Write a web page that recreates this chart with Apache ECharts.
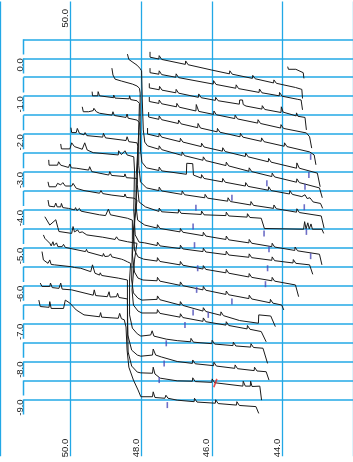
<!DOCTYPE html>
<html><head><meta charset="utf-8">
<script src="https://cdn.jsdelivr.net/npm/echarts@6/dist/echarts.min.js"></script>
<style>html,body{margin:0;padding:0;background:#fff}#c{width:353px;height:462px}</style>
</head><body><div id="c"></div>
<script>
// axis settings
const xTickValues = [50, 48, 46, 44];
const topTickValues = [50];
const yLabelValues = [0, -1, -2, -3, -4, -5, -6, -7, -8, -9];
const rowLines = [0.5,0,-0.5,-1,-1.5,-2,-2.5,-3,-3.5,-4,-4.5,-5,-5.5,-6,-6.5,-7,-7.5,-8,-8.5,-9];

// traces: [ppm, offset]
const trace00 = [[43.85,-0.22],[43.83,-0.29],[43.62,-0.29],[43.58,-0.33],[43.41,-0.38],[43.39,-0.53]];
const trace01 = [[47.75,0.17],[47.75,0.03],[47.50,-0.02],[47.49,0.07],[47.42,-0.03],[46.75,-0.16],[46.74,-0.07],[46.67,-0.17],[46.0,-0.31],[45.5,-0.41],[45.49,-0.33],[45.42,-0.42],[44.85,-0.53],[44.84,-0.45],[44.77,-0.54],[44.25,-0.65],[44.24,-0.57],[44.17,-0.66],[43.63,-0.77],[43.45,-0.82],[43.43,-1.06]];
const trace02 = [[47.75,-0.26],[47.75,-0.38],[47.50,-0.42],[47.49,-0.33],[47.42,-0.43],[47.02,-0.50],[47.01,-0.41],[46.94,-0.51],[45.96,-0.68],[45.95,-0.59],[45.88,-0.69],[45.32,-0.79],[45.31,-0.70],[45.24,-0.80],[44.66,-0.90],[44.65,-0.81],[44.58,-0.91],[44.09,-0.99],[44.08,-0.90],[44.01,-1.00],[43.58,-1.08],[43.47,-1.10],[43.43,-1.36]];
const trace03 = [[47.77,-0.66],[47.77,-0.78],[47.49,-0.83],[47.48,-0.74],[47.41,-0.84],[47.02,-0.91],[47.01,-0.82],[46.94,-0.92],[46.38,-1.03],[46.37,-0.94],[46.30,-1.04],[45.90,-1.11],[45.89,-1.03],[45.82,-1.12],[45.22,-1.21],[45.21,-1.10],[45.13,-1.10],[45.11,-1.22],[45.03,-1.26],[44.58,-1.34],[44.57,-1.25],[44.50,-1.35],[44.04,-1.43],[44.03,-1.28],[43.98,-1.42],[43.95,-1.45],[43.61,-1.52],[43.60,-1.44],[43.56,-1.53],[43.36,-1.56],[43.32,-1.89]];
const trace04 = [[47.77,-1.02],[47.77,-1.14],[47.50,-1.19],[47.49,-1.10],[47.42,-1.20],[47.00,-1.28],[46.99,-1.19],[46.92,-1.29],[46.45,-1.39],[46.44,-1.22],[46.37,-1.40],[45.95,-1.48],[45.94,-1.39],[45.87,-1.49],[45.35,-1.59],[45.34,-1.50],[45.27,-1.60],[44.70,-1.71],[44.69,-1.62],[44.62,-1.72],[44.05,-1.84],[44.04,-1.75],[43.97,-1.85],[43.32,-1.97],[43.23,-2.07],[43.17,-2.37]];
const trace05 = [[47.79,-1.42],[47.79,-1.55],[47.50,-1.61],[47.49,-1.52],[47.42,-1.62],[46.95,-1.72],[46.94,-1.63],[46.87,-1.73],[46.40,-1.83],[46.39,-1.72],[46.32,-1.84],[45.85,-1.94],[45.84,-1.85],[45.77,-1.95],[45.20,-2.07],[45.19,-1.98],[45.12,-2.08],[44.60,-2.19],[44.59,-2.10],[44.52,-2.20],[43.95,-2.32],[43.94,-2.23],[43.87,-2.33],[43.23,-2.47],[43.10,-2.55],[43.05,-2.81]];
const trace06 = [[47.82,-1.84],[47.82,-2.00],[47.50,-2.07],[47.49,-1.98],[47.42,-2.08],[46.90,-2.20],[46.89,-2.11],[46.82,-2.21],[46.30,-2.33],[46.29,-2.24],[46.22,-2.34],[45.70,-2.45],[45.69,-2.36],[45.62,-2.46],[45.05,-2.59],[45.04,-2.50],[44.97,-2.60],[44.40,-2.73],[44.39,-2.64],[44.32,-2.74],[43.60,-2.90],[43.59,-2.76],[43.52,-2.90],[43.01,-3.03],[42.93,-3.39]];
const trace07 = [[48.39,0.11],[48.35,-0.03],[48.26,-0.09],[48.12,-0.18],[48.04,-0.26],[47.99,-0.33],[47.97,-1.10],[47.94,-1.89],[47.90,-2.21],[47.82,-2.31],
  [47.50,-2.40],[47.49,-2.31],[47.42,-2.41],[46.85,-2.56],[46.84,-2.47],[46.77,-2.57],[46.25,-2.69],[46.24,-2.60],[46.17,-2.70],[45.60,-2.83],[45.59,-2.74],[45.52,-2.84],[44.95,-2.98],[44.94,-2.89],[44.87,-2.99],[44.30,-3.12],[44.29,-3.03],[44.22,-3.13],[43.60,-3.27],[43.59,-3.18],[43.52,-3.28],[42.95,-3.42],[42.87,-3.68]];
const trace08 = [[48.83,-0.26],[48.80,-0.44],[48.74,-0.55],[48.56,-0.60],[48.25,-0.68],[48.12,-0.73],[48.05,-0.79],[48.03,-0.92],[48.03,-1.63],[48.02,-2.42],[47.98,-2.74],[47.85,-2.89],
  [47.50,-2.96],[47.49,-2.87],[47.42,-2.97],[46.72,-3.06],[46.71,-2.77],[46.54,-2.78],[46.52,-3.08],[46.30,-3.16],[46.29,-3.07],[46.22,-3.17],[45.70,-3.26],[45.69,-3.17],[45.62,-3.27],[45.05,-3.37],[45.04,-3.28],[44.97,-3.38],[44.40,-3.48],[44.39,-3.39],[44.32,-3.49],[43.80,-3.58],[43.79,-3.49],[43.72,-3.59],[43.45,-3.65],[43.36,-3.60],[43.30,-3.70],[43.22,-3.68],[43.13,-3.79],[42.92,-3.83],[42.86,-3.96]];
const trace09 = [[49.39,-0.88],[49.38,-0.99],[49.23,-0.99],[49.22,-0.88],[49.18,-0.99],[48.78,-1.04],[48.78,-0.97],[48.74,-1.05],[48.34,-1.07],[48.33,-0.99],[48.30,-1.09],[48.12,-1.12],[48.05,-1.19],[48.07,-1.89],[48.07,-2.82],[48.02,-3.26],[47.85,-3.42],
  [47.50,-3.49],[47.49,-3.40],[47.42,-3.50],[46.85,-3.59],[46.84,-3.50],[46.77,-3.60],[46.20,-3.68],[46.19,-3.59],[46.12,-3.69],[45.55,-3.77],[45.54,-3.68],[45.47,-3.78],[44.90,-3.87],[44.89,-3.78],[44.82,-3.88],[44.25,-3.96],[44.24,-3.87],[44.17,-3.97],[43.60,-4.06],[43.59,-3.97],[43.52,-4.07],[42.90,-4.16],[42.82,-4.48]];
const trace10 = [[49.67,-1.28],[49.64,-1.41],[49.49,-1.41],[49.36,-1.38],[49.34,-1.32],[49.27,-1.41],[49.18,-1.45],[48.83,-1.50],[48.80,-1.41],[48.76,-1.51],[48.43,-1.56],[48.40,-1.47],[48.37,-1.58],[48.12,-1.63],[48.05,-1.70],[48.10,-2.42],[48.11,-3.34],[48.06,-3.79],[47.88,-3.92],
  [47.50,-4.04],[47.49,-3.95],[47.42,-4.05],[46.95,-4.08],[46.94,-3.99],[46.87,-4.09],[46.30,-4.12],[46.29,-4.03],[46.22,-4.13],[45.60,-4.15],[45.59,-4.06],[45.52,-4.16],[45.00,-4.19],[44.99,-4.10],[44.92,-4.20],[44.60,-4.22],[44.51,-4.49],[43.40,-4.51],[43.37,-4.31],[43.33,-4.50],[43.28,-4.34],[43.24,-4.50],[43.19,-4.37],[43.15,-4.51],[42.88,-4.51],[42.83,-4.62]];
const trace11 = [[49.99,-1.83],[49.97,-1.96],[49.84,-1.96],[49.81,-1.85],[49.75,-1.98],[49.62,-2.02],[49.59,-1.96],[49.54,-2.04],[49.09,-2.08],[49.07,-1.98],[49.01,-2.10],[48.43,-2.17],[48.40,-2.07],[48.35,-2.20],[48.12,-2.23],[48.09,-2.33],[48.14,-3.08],[48.15,-3.87],[48.10,-4.27],[47.90,-4.40],
  [47.55,-4.48],[47.54,-4.39],[47.47,-4.49],[46.90,-4.58],[46.89,-4.49],[46.82,-4.59],[46.25,-4.68],[46.24,-4.59],[46.17,-4.69],[45.60,-4.78],[45.59,-4.69],[45.52,-4.79],[44.95,-4.87],[44.94,-4.78],[44.87,-4.88],[44.30,-4.97],[44.29,-4.88],[44.22,-4.98],[43.65,-5.07],[43.64,-4.98],[43.57,-5.08],[42.95,-5.17],[42.88,-5.45]];
const trace12 = [[50.28,-2.26],[50.26,-2.39],[50.02,-2.39],[49.97,-2.23],[49.89,-2.33],[49.67,-2.40],[49.60,-2.23],[49.53,-2.42],[49.36,-2.49],[48.65,-2.55],[48.64,-2.44],[48.56,-2.54],[48.46,-2.44],[48.40,-2.55],[48.21,-2.60],[48.17,-2.60],[48.19,-2.95],[48.21,-4.00],[48.17,-4.66],[48.06,-4.85],[47.90,-4.87],
  [47.55,-4.94],[47.54,-4.85],[47.47,-4.95],[46.90,-5.02],[46.89,-4.93],[46.82,-5.03],[46.25,-5.10],[46.24,-5.01],[46.17,-5.11],[45.60,-5.18],[45.59,-5.09],[45.52,-5.19],[44.95,-5.25],[44.94,-5.16],[44.87,-5.26],[44.30,-5.33],[44.29,-5.24],[44.22,-5.34],[43.70,-5.40],[43.69,-5.31],[43.62,-5.41],[43.23,-5.45],[43.14,-5.70]];
const trace13 = [[50.62,-2.68],[50.61,-2.82],[50.37,-2.82],[50.34,-2.73],[50.28,-2.82],[50.06,-2.88],[50.02,-2.79],[49.98,-2.89],[49.84,-2.90],[49.49,-2.95],[49.46,-2.86],[49.40,-2.99],[48.92,-3.08],[48.89,-2.99],[48.84,-3.09],[48.48,-3.12],[48.46,-3.05],[48.42,-3.15],[48.12,-3.17],[48.08,-3.21],[48.14,-3.74],[48.22,-4.53],[48.19,-5.06],[48.09,-5.24],[47.93,-5.30],
  [47.55,-5.35],[47.54,-5.26],[47.47,-5.36],[46.90,-5.45],[46.89,-5.36],[46.82,-5.46],[46.25,-5.56],[46.24,-5.47],[46.17,-5.57],[45.60,-5.66],[45.59,-5.57],[45.52,-5.67],[44.95,-5.77],[44.94,-5.68],[44.87,-5.78],[44.30,-5.87],[44.29,-5.78],[44.22,-5.88],[43.63,-5.98],[43.54,-6.29]];
const trace14 = [[50.64,-3.26],[50.61,-3.39],[50.42,-3.39],[50.37,-3.30],[50.28,-3.34],[50.22,-3.28],[50.15,-3.37],[49.97,-3.37],[49.93,-3.30],[49.84,-3.43],[49.62,-3.49],[49.18,-3.56],[49.14,-3.49],[49.09,-3.57],[48.83,-3.61],[48.48,-3.65],[48.46,-3.58],[48.42,-3.67],[48.21,-3.69],[48.12,-3.74],[48.18,-4.27],[48.25,-5.19],[48.19,-5.64],[48.09,-5.80],[47.95,-5.85],
  [47.55,-5.87],[47.54,-5.78],[47.47,-5.88],[46.90,-5.99],[46.89,-5.90],[46.82,-6.00],[46.25,-6.11],[46.24,-6.02],[46.17,-6.12],[45.60,-6.23],[45.59,-6.14],[45.52,-6.24],[44.95,-6.34],[44.94,-6.25],[44.87,-6.35],[44.35,-6.45],[44.34,-6.36],[44.27,-6.46],[44.02,-6.51],[43.96,-6.64]];
const trace15 = [[50.64,-3.74],[50.61,-3.90],[50.46,-3.92],[50.42,-3.82],[50.38,-3.92],[50.28,-3.92],[50.26,-3.83],[50.22,-3.94],[50.06,-3.96],[49.89,-4.00],[49.86,-3.94],[49.82,-4.02],[49.75,-3.96],[49.71,-4.03],[49.62,-4.05],[49.18,-4.13],[49.01,-4.15],[48.93,-3.98],[48.87,-4.13],[48.39,-4.22],[48.25,-4.27],[48.21,-4.31],[48.25,-4.79],[48.27,-5.85],[48.22,-6.19],[48.09,-6.33],[47.98,-6.38],
  [47.55,-6.36],[47.54,-6.27],[47.47,-6.37],[46.90,-6.51],[46.89,-6.42],[46.82,-6.52],[46.25,-6.67],[46.24,-6.58],[46.17,-6.68],[45.75,-6.78],[45.74,-6.69],[45.67,-6.79],[45.21,-6.92],[44.68,-6.99],[44.67,-6.77],[44.33,-6.80],[44.20,-7.08]];
const trace16 = [[50.73,-4.18],[50.59,-4.40],[50.42,-4.26],[50.36,-4.47],[50.33,-4.57],[49.97,-4.62],[49.93,-4.44],[49.89,-4.58],[49.80,-4.53],[49.75,-4.60],[49.67,-4.58],[49.54,-4.66],[49.09,-4.72],[48.74,-4.78],[48.70,-4.71],[48.64,-4.79],[48.39,-4.84],[48.12,-4.88],[48.19,-5.32],[48.26,-6.11],[48.22,-6.51],[48.09,-6.67],[47.98,-6.72],
  [47.55,-6.72],[47.54,-6.63],[47.47,-6.73],[46.90,-6.83],[46.89,-6.74],[46.82,-6.84],[46.25,-6.94],[46.24,-6.85],[46.17,-6.95],[45.60,-7.04],[45.59,-6.95],[45.52,-7.05],[45.00,-7.14],[44.99,-7.05],[44.92,-7.15],[44.60,-7.21],[44.46,-7.48]];
const trace17 = [[50.77,-4.66],[50.73,-4.75],[50.59,-4.88],[50.55,-4.95],[50.50,-4.84],[50.47,-4.94],[50.40,-4.87],[50.36,-4.97],[50.24,-4.97],[50.20,-4.91],[50.15,-4.99],[49.58,-5.10],[49.55,-5.04],[49.52,-5.11],[49.09,-5.22],[49.07,-5.15],[49.03,-5.23],[48.92,-5.22],[48.87,-5.16],[48.83,-5.24],[48.56,-5.30],[48.54,-5.25],[48.50,-5.32],[48.39,-5.37],[48.30,-5.41],[48.33,-5.85],[48.33,-6.77],[48.25,-7.12],[48.11,-7.27],[48.01,-7.33],
  [47.73,-7.30],[47.69,-7.19],[47.64,-7.33],[47.29,-7.41],[46.98,-7.45],[46.60,-7.48],[46.59,-7.39],[46.52,-7.49],[46.00,-7.53],[45.99,-7.44],[45.92,-7.54],[45.40,-7.58],[45.39,-7.49],[45.32,-7.59],[44.90,-7.62],[44.89,-7.53],[44.82,-7.63],[44.55,-7.65],[44.42,-8.05]];
const trace18 = [[50.81,-5.10],[50.77,-5.32],[50.64,-5.41],[50.59,-5.32],[50.55,-5.44],[50.46,-5.45],[49.97,-5.50],[49.93,-5.45],[49.89,-5.52],[49.71,-5.54],[49.43,-5.63],[49.38,-5.45],[49.31,-5.67],[49.18,-5.72],[49.16,-5.66],[49.12,-5.73],[48.65,-5.80],[48.39,-5.85],[48.39,-6.38],[48.38,-7.30],[48.27,-7.70],[48.11,-7.83],[48.01,-7.86],
  [47.68,-7.83],[47.66,-7.67],[47.59,-7.83],[47.43,-7.88],[46.98,-8.00],[46.55,-8.05],[46.54,-7.96],[46.47,-8.06],[45.95,-8.11],[45.94,-8.02],[45.87,-8.12],[45.35,-8.18],[45.34,-8.09],[45.27,-8.19],[44.80,-8.24],[44.79,-8.15],[44.72,-8.25],[44.46,-8.27],[44.38,-8.49]];
const trace19 = [[50.86,-5.93],[50.81,-6.02],[50.59,-6.02],[50.57,-5.93],[50.52,-6.05],[50.33,-6.07],[50.28,-5.93],[50.24,-6.09],[49.97,-6.11],[49.36,-6.25],[49.33,-6.11],[49.29,-6.26],[48.96,-6.29],[48.91,-6.16],[48.88,-6.30],[48.70,-6.29],[48.67,-6.20],[48.63,-6.31],[48.39,-6.35],[48.39,-6.91],[48.37,-7.75],[48.27,-8.12],[48.11,-8.28],[48.01,-8.30],
  [47.68,-8.31],[47.66,-8.15],[47.61,-8.33],[47.46,-8.44],[46.98,-8.51],[46.55,-8.52],[46.54,-8.43],[46.47,-8.53],[46.00,-8.55],[45.99,-8.46],[45.92,-8.56],[45.12,-8.65],[45.11,-8.52],[45.05,-8.65],[44.91,-8.65],[44.90,-8.52],[44.86,-8.66],[44.64,-8.65],[44.59,-9.02]];
const trace20 = [[50.90,-6.38],[50.86,-6.55],[50.61,-6.57],[50.59,-6.42],[50.55,-6.60],[50.20,-6.60],[50.15,-6.38],[50.11,-6.42],[50.02,-6.46],[49.97,-6.42],[49.84,-6.64],[49.62,-6.77],[49.18,-6.82],[49.15,-6.71],[49.12,-6.83],[48.65,-6.86],[48.61,-6.73],[48.56,-6.87],[48.48,-6.90],[48.43,-7.09],[48.40,-7.70],[48.35,-8.15],[48.22,-8.49],[48.09,-8.75],[48.01,-8.93],
  [47.68,-8.93],[47.66,-8.80],[47.61,-8.95],[47.33,-8.97],[47.30,-8.89],[47.24,-8.97],[46.98,-9.02],[46.50,-9.06],[46.49,-8.97],[46.42,-9.07],[45.90,-9.10],[45.89,-9.01],[45.82,-9.11],[45.30,-9.15],[45.29,-9.06],[45.22,-9.16],[44.75,-9.19],[44.67,-9.37]];

// small peak markers
const blueMarks = [[43.20,-2.60],[43.25,-3.08],[44.44,-3.30],[43.36,-3.39],[45.43,-3.68],[46.45,-3.94],
  [43.38,-3.93],[46.53,-4.44],[44.52,-4.62],[43.32,-4.58],[46.49,-4.93],[44.38,-5.04],[43.20,-5.22],
  [46.40,-5.54],[44.42,-5.54],[46.43,-6.11],[44.48,-5.96],[45.43,-6.42],[46.53,-6.71],[46.10,-6.77],
  [46.76,-7.04],[47.29,-7.52],[47.35,-8.05],[47.49,-8.49],[47.26,-9.15]];
const redMarks = [[45.90,-8.57]];

const traces = [trace00,trace01,trace02,trace03,trace04,trace05,trace06,trace07,trace08,trace09,trace10,
  trace11,trace12,trace13,trace14,trace15,trace16,trace17,trace18,trace19,trace20];

const BLUE = '#22a8e6';
const dropData = [];
rowLines.forEach(v => { dropData.push([0, v]); dropData.push([0, v - 0.4]); dropData.push(null); });

const chart = echarts.init(document.getElementById('c'), null, {renderer: 'canvas'});
const series = traces.map(d => ({
  type: 'line', xAxisIndex: 0, yAxisIndex: 0, data: d, showSymbol: false, symbol: 'none',
  lineStyle: {color: '#1a1a1a', width: 1}, silent: true, clip: false, z: 5
}));
series.push({type:'line', xAxisIndex: 2, yAxisIndex: 1, data: dropData, showSymbol:false, symbol:'none',
  connectNulls:false, lineStyle:{color: BLUE, width: 1.5}, silent:true, clip:false, z: 2});
series.push({type:'scatter', xAxisIndex:0, yAxisIndex:0, data: blueMarks, symbol:'rect', symbolSize:[1.6,6],
  itemStyle:{color:'#4a4ab8'}, silent:true, z: 6});
series.push({type:'scatter', xAxisIndex:0, yAxisIndex:0, data: redMarks, symbol:'rect', symbolSize:[1.6,9], symbolRotate:-20,
  itemStyle:{color:'#e02020'}, silent:true, z: 6});

const fmt1 = v => v.toFixed(1);
const labelBase = {fontSize: 9.5, fontFamily: 'Liberation Sans', color: '#222'};
chart.setOption({
  animation: false,
  backgroundColor: '#fff',
  grid: [
    {left: -9.9, right: -15.1, top: 1.45, bottom: 5.75},
    {left: 23.5, right: 0, top: 39.35, bottom: 62.6},
    {left: -9.9, right: -15.1, top: 0, bottom: 434.5}
  ],
  xAxis: [
    {gridIndex: 0, type: 'value', inverse: true, min: 42, max: 52, interval: 2, position: 'bottom',
     axisLine: {show: false}, axisTick: {show: false},
     splitLine: {show: true, lineStyle: {color: BLUE, width: 1.3}},
     axisLabel: Object.assign({rotate: 90, align: 'left', verticalAlign: 'bottom', margin: 1,
       formatter: v => xTickValues.includes(v) ? fmt1(v) : ''}, labelBase)},
    {gridIndex: 2, type: 'value', inverse: true, min: 42, max: 52, interval: 2, position: 'bottom',
     axisLine: {show: false}, axisTick: {show: false}, splitLine: {show: false},
     axisLabel: Object.assign({rotate: 90, align: 'left', verticalAlign: 'bottom', margin: 0,
       formatter: v => topTickValues.includes(v) ? fmt1(v) : ''}, labelBase)},
    {gridIndex: 1, type: 'value', min: 0, max: 1, show: false}
  ],
  yAxis: [
    {gridIndex: 0, type: 'value', min: -10.5, max: 1.5, show: false},
    {gridIndex: 1, type: 'value', min: -9, max: 0.5, interval: 0.5,
     axisLine: {show: false}, axisTick: {show: false},
     splitLine: {show: true, lineStyle: {color: BLUE, width: 1.5}},
     axisLabel: Object.assign({rotate: 90, align: 'right', verticalAlign: 'bottom', margin: -1.5,
       formatter: v => yLabelValues.includes(v) ? fmt1(v) : ''}, labelBase)},
    {gridIndex: 2, type: 'value', min: 0, max: 1, show: false}
  ],
  series: series
});
</script></body></html>
